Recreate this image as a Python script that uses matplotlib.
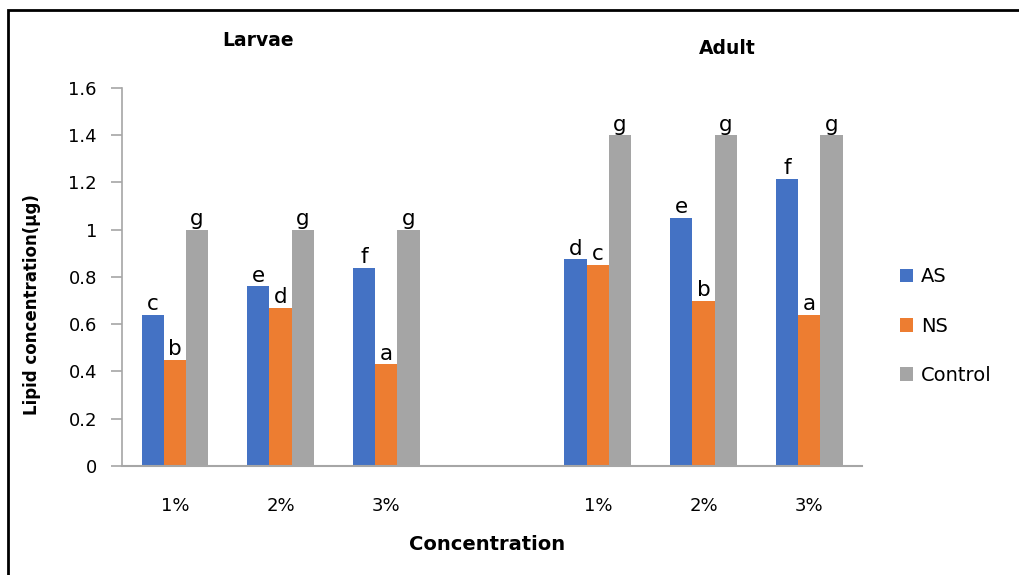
import matplotlib
matplotlib.use("Agg")
import matplotlib.pyplot as plt
import numpy as np
from matplotlib.patches import Rectangle

categories = ["1%", "2%", "3%", "", "1%", "2%", "3%"]
as_vals = [0.64, 0.76, 0.84, np.nan, 0.875, 1.05, 1.215]
ns_vals = [0.45, 0.67, 0.43, np.nan, 0.85, 0.70, 0.64]
ctrl_vals = [1.0, 1.0, 1.0, np.nan, 1.40, 1.40, 1.40]
as_letters = ["c", "e", "f", "", "d", "e", "f"]
ns_letters = ["b", "d", "a", "", "c", "b", "a"]
ctrl_letters = ["g", "g", "g", "", "g", "g", "g"]
series_names = ["AS", "NS", "Control"]
colors = ["#4472C4", "#ED7D31", "#A5A5A5"]

plt.rcParams['font.family'] = ['DejaVu Sans']
fig = plt.figure(figsize=(10.19, 5.75), dpi=100)
ax = fig.add_axes([0.1197, 0.1896, 0.846 - 0.1197, 0.847 - 0.1896])

x = np.arange(len(categories))
w = 0.21
all_vals = [as_vals, ns_vals, ctrl_vals]
all_letters = [as_letters, ns_letters, ctrl_letters]
for i, (vals, lets, name, c) in enumerate(zip(all_vals, all_letters, series_names, colors)):
    pos = x + (i - 1) * w
    v = np.array(vals, dtype=float)
    ax.bar(pos, np.nan_to_num(v), width=w, color=c, label=name)
    for p, val, l in zip(pos, v, lets):
        if l and not np.isnan(val):
            ax.text(p, val + 0.003, l, ha="center", va="bottom", fontsize=15.5, color="black")

ax.set_xlim(-0.5, len(categories) - 0.5)
ax.set_ylim(0, 1.6)
ax.set_yticks(np.arange(0, 1.61, 0.2))
ax.set_yticklabels(["0", "0.2", "0.4", "0.6", "0.8", "1", "1.2", "1.4", "1.6"], fontsize=13)
ax.set_xticks(x)
ax.set_xticklabels(categories, fontsize=13)
ax.tick_params(axis="x", length=0, pad=22)
ax.tick_params(axis="y", length=8, color="#a6a6a6", width=1.2, pad=10)
for s in ["top", "right"]:
    ax.spines[s].set_visible(False)
ax.spines["left"].set_color("#a6a6a6")
ax.spines["left"].set_linewidth(1.2)
ax.spines["bottom"].set_color("#a6a6a6")
ax.spines["bottom"].set_linewidth(1.5)

fig.text(32 / 1019, 1 - 305 / 575, "Lipid concentration(µg)", fontsize=12, fontweight="bold",
         rotation=90, ha="center", va="center")
fig.text(487 / 1019, 1 - 545 / 575, "Concentration", fontsize=14, fontweight="bold", ha="center", va="center")

fig.text(258 / 1019, 1 - 40 / 575, "Larvae", fontsize=13.5, fontweight="bold", ha="center", va="center")
fig.text(727 / 1019, 1 - 48 / 575, "Adult", fontsize=13.5, fontweight="bold", ha="center", va="center")

leg = fig.legend(loc="center left", bbox_to_anchor=(882 / 1019, 1 - 326 / 575), frameon=False,
                 fontsize=14, handlelength=0.7, handleheight=0.7, handletextpad=0.4, labelspacing=1.55)

fig.patches.append(Rectangle((8 / 1019, -0.01), 1.02, 1 - 10 / 575 + 0.01, transform=fig.transFigure,
                             fill=False, edgecolor="black", linewidth=2))

fig.savefig("out.png", dpi=100)
